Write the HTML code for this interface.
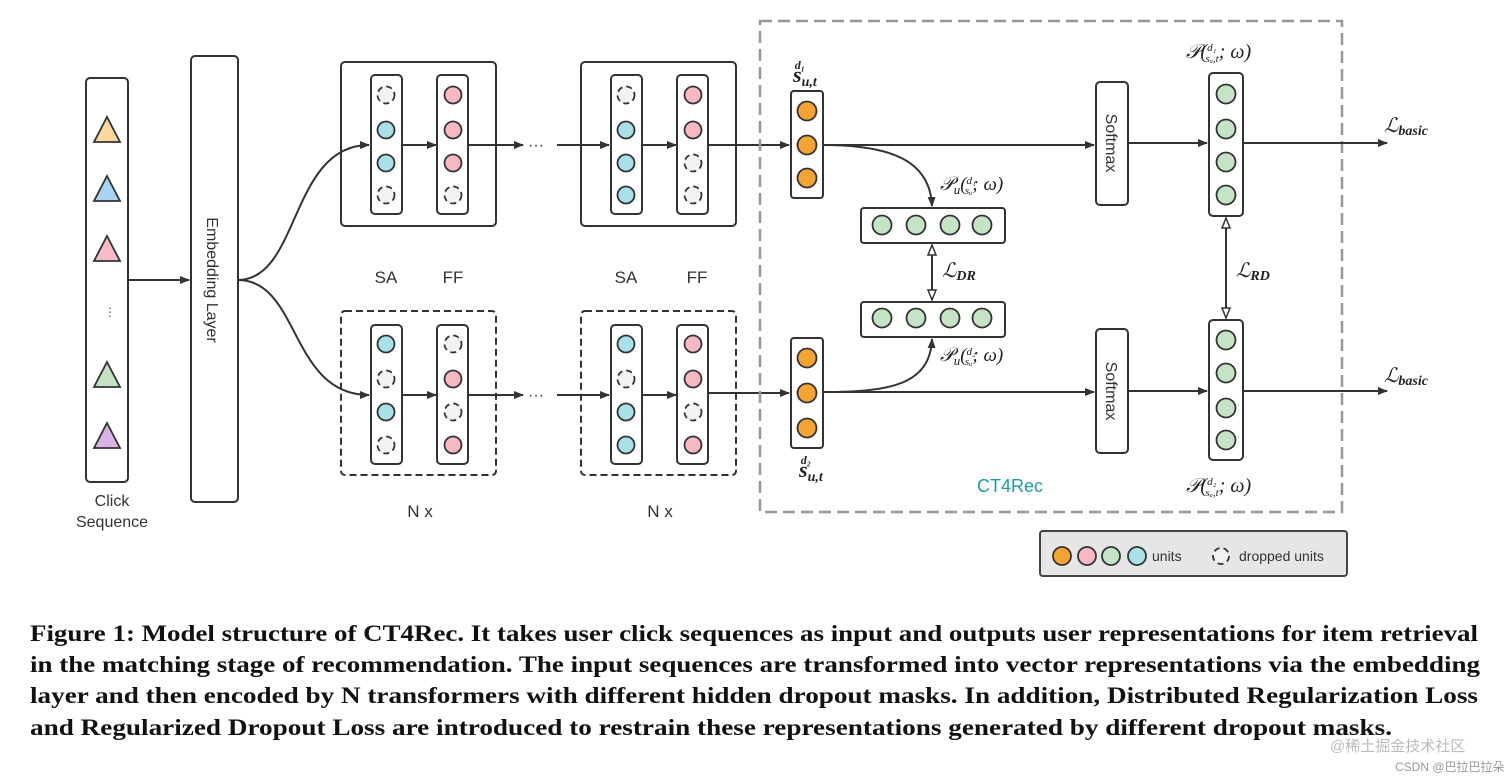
<!DOCTYPE html>
<html><head><meta charset="utf-8"><style>
html,body{margin:0;padding:0;background:#fff;}
svg{display:block;}
.s{font-family:"Liberation Sans",sans-serif;fill:#333;}
.m{font-family:"Liberation Serif",serif;font-style:italic;fill:#222;}
.cap{font-family:"Liberation Serif",serif;font-weight:bold;font-size:23px;fill:#111;}
</style></head><body>
<svg width="1512" height="777" viewBox="0 0 1512 777" xmlns="http://www.w3.org/2000/svg">
<defs>
<marker id="a" markerWidth="10" markerHeight="8" refX="9" refY="4" orient="auto" markerUnits="userSpaceOnUse"><path d="M0,0 L10,4 L0,8 Z" fill="#333"/></marker>
<marker id="h" markerWidth="12" markerHeight="10" refX="11" refY="5" orient="auto" markerUnits="userSpaceOnUse"><path d="M1,1 L11,5 L1,9 Z" fill="#fff" stroke="#333" stroke-width="1.5"/></marker>
<marker id="hs" markerWidth="12" markerHeight="10" refX="1" refY="5" orient="auto" markerUnits="userSpaceOnUse"><path d="M11,1 L1,5 L11,9 Z" fill="#fff" stroke="#333" stroke-width="1.5"/></marker>
</defs>
<g stroke="#333" stroke-width="2" fill="none">
<rect x="86" y="78" width="42" height="404" rx="4" fill="#fff"/>
<rect x="191" y="56" width="47" height="446" rx="4" fill="#fff"/>
<line x1="128" y1="280" x2="189" y2="280" marker-end="url(#a)"/>
<path d="M238,280 C300,280 290,145 369,145" marker-end="url(#a)"/>
<path d="M238,280 C300,280 290,395 369,395" marker-end="url(#a)"/>
<rect x="341" y="62" width="155" height="164" rx="4"/>
<rect x="341" y="311" width="155" height="164" rx="4" stroke-dasharray="7,4"/>
<rect x="581" y="62" width="155" height="164" rx="4"/>
<rect x="581" y="311" width="155" height="164" rx="4" stroke-dasharray="7,4"/>
<g fill="#fff">
<rect x="371" y="75" width="31" height="139" rx="4"/><rect x="437" y="75" width="31" height="139" rx="4"/>
<rect x="371" y="325" width="31" height="139" rx="4"/><rect x="437" y="325" width="31" height="139" rx="4"/>
<rect x="611" y="75" width="31" height="139" rx="4"/><rect x="677" y="75" width="31" height="139" rx="4"/>
<rect x="611" y="325" width="31" height="139" rx="4"/><rect x="677" y="325" width="31" height="139" rx="4"/>
</g>
<line x1="402" y1="145" x2="436" y2="145" marker-end="url(#a)"/>
<line x1="402" y1="395" x2="436" y2="395" marker-end="url(#a)"/>
<line x1="642" y1="145" x2="676" y2="145" marker-end="url(#a)"/>
<line x1="642" y1="395" x2="676" y2="395" marker-end="url(#a)"/>
<line x1="468" y1="145" x2="523" y2="145" marker-end="url(#a)"/>
<line x1="468" y1="395" x2="523" y2="395" marker-end="url(#a)"/>
<line x1="557" y1="145" x2="609" y2="145" marker-end="url(#a)"/>
<line x1="557" y1="395" x2="609" y2="395" marker-end="url(#a)"/>
<line x1="708" y1="145" x2="789" y2="145" marker-end="url(#a)"/>
<line x1="708" y1="393" x2="789" y2="393" marker-end="url(#a)"/>
</g>
<g font-family="Liberation Sans" font-size="16" fill="#333"><text x="528" y="150">···</text><text x="528" y="400">···</text></g>
<g stroke="#333" stroke-width="1.8">
<path d="M107,117 L120,142 L94,142 Z" fill="#fcd8a0"/>
<path d="M107,176 L120,201 L94,201 Z" fill="#a9d3f2"/>
<path d="M107,236 L120,261 L94,261 Z" fill="#f8bcc8"/>
<path d="M107,362 L120,387 L94,387 Z" fill="#c4e3c2"/>
<path d="M107,423 L120,448 L94,448 Z" fill="#d9b3e3"/>
</g>
<text x="104" y="316" font-size="12" fill="#555" font-family="Liberation Sans">⋮</text>
<text class="s" x="0" y="0" font-size="16" transform="translate(207,280) rotate(90)" text-anchor="middle">Embedding Layer</text>
<text class="s" x="112" y="506" font-size="16" text-anchor="middle">Click</text>
<text class="s" x="112" y="527" font-size="16" text-anchor="middle">Sequence</text>
<g class="s" font-size="17" text-anchor="middle">
<text x="386" y="283">SA</text><text x="453" y="283">FF</text>
<text x="626" y="283">SA</text><text x="697" y="283">FF</text>
<text x="420" y="517">N x</text><text x="660" y="517">N x</text>
</g>
<g stroke="#333" stroke-width="1.8">
<g fill="#a8e0e8">
<circle cx="386" cy="130" r="8.5"/><circle cx="386" cy="163" r="8.5"/>
<circle cx="386" cy="344" r="8.5"/><circle cx="386" cy="412" r="8.5"/>
<circle cx="626" cy="130" r="8.5"/><circle cx="626" cy="163" r="8.5"/><circle cx="626" cy="195" r="8.5"/>
<circle cx="626" cy="344" r="8.5"/><circle cx="626" cy="412" r="8.5"/><circle cx="626" cy="445" r="8.5"/>
</g>
<g fill="#f7b8c4">
<circle cx="453" cy="95" r="8.5"/><circle cx="453" cy="130" r="8.5"/><circle cx="453" cy="163" r="8.5"/>
<circle cx="453" cy="379" r="8.5"/><circle cx="453" cy="445" r="8.5"/>
<circle cx="693" cy="95" r="8.5"/><circle cx="693" cy="130" r="8.5"/>
<circle cx="693" cy="344" r="8.5"/><circle cx="693" cy="379" r="8.5"/><circle cx="693" cy="445" r="8.5"/>
</g>
<g fill="#f2f2f2" stroke-dasharray="6,4">
<circle cx="386" cy="95" r="8.5"/><circle cx="386" cy="195" r="8.5"/><circle cx="453" cy="195" r="8.5"/>
<circle cx="386" cy="379" r="8.5"/><circle cx="386" cy="445" r="8.5"/>
<circle cx="453" cy="344" r="8.5"/><circle cx="453" cy="412" r="8.5"/>
<circle cx="626" cy="95" r="8.5"/><circle cx="693" cy="163" r="8.5"/><circle cx="693" cy="195" r="8.5"/>
<circle cx="626" cy="379" r="8.5"/><circle cx="693" cy="412" r="8.5"/>
</g>
</g>
<rect x="760" y="21" width="582" height="491" fill="none" stroke="#999" stroke-width="2.5" stroke-dasharray="12,6"/>
<g stroke="#333" stroke-width="2" fill="#fff">
<rect x="791" y="91" width="32" height="107" rx="3"/>
<rect x="791" y="338" width="32" height="110" rx="3"/>
<rect x="1096" y="82" width="32" height="123" rx="4"/>
<rect x="1096" y="329" width="32" height="124" rx="4"/>
<rect x="1209" y="73" width="34" height="143" rx="4"/>
<rect x="1209" y="320" width="34" height="140" rx="4"/>
<rect x="861" y="208" width="144" height="35" rx="3"/>
<rect x="861" y="302" width="144" height="35" rx="3"/>
</g>
<g stroke="#333" stroke-width="2" fill="none">
<line x1="823" y1="145" x2="1094" y2="145" marker-end="url(#a)"/>
<line x1="823" y1="392" x2="1094" y2="392" marker-end="url(#a)"/>
<line x1="1128" y1="143" x2="1207" y2="143" marker-end="url(#a)"/>
<line x1="1128" y1="391" x2="1207" y2="391" marker-end="url(#a)"/>
<line x1="1243" y1="143" x2="1387" y2="143" marker-end="url(#a)"/>
<line x1="1243" y1="391" x2="1387" y2="391" marker-end="url(#a)"/>
<path d="M823,145 C890,145 930,160 932,206" marker-end="url(#a)"/>
<path d="M823,392 C890,392 930,385 932,339" marker-end="url(#a)"/>
<line x1="932" y1="245" x2="932" y2="300" marker-start="url(#hs)" marker-end="url(#h)"/>
<line x1="1226" y1="218" x2="1226" y2="318" marker-start="url(#hs)" marker-end="url(#h)"/>
</g>
<g stroke="#333" stroke-width="1.8">
<g fill="#f5a431">
<circle cx="807" cy="111" r="9.5"/><circle cx="807" cy="145" r="9.5"/><circle cx="807" cy="178" r="9.5"/>
<circle cx="807" cy="358" r="9.5"/><circle cx="807" cy="393" r="9.5"/><circle cx="807" cy="428" r="9.5"/>
</g>
<g fill="#c5e3c5">
<circle cx="882" cy="225" r="9.5"/><circle cx="916" cy="225" r="9.5"/><circle cx="950" cy="225" r="9.5"/><circle cx="982" cy="225" r="9.5"/>
<circle cx="882" cy="318" r="9.5"/><circle cx="916" cy="318" r="9.5"/><circle cx="950" cy="318" r="9.5"/><circle cx="982" cy="318" r="9.5"/>
<circle cx="1226" cy="94" r="9.5"/><circle cx="1226" cy="129" r="9.5"/><circle cx="1226" cy="162" r="9.5"/><circle cx="1226" cy="195" r="9.5"/>
<circle cx="1226" cy="340" r="9.5"/><circle cx="1226" cy="373" r="9.5"/><circle cx="1226" cy="408" r="9.5"/><circle cx="1226" cy="440" r="9.5"/>
</g>
</g>
<g class="s" font-size="16" text-anchor="middle">
<text transform="translate(1106,143) rotate(90)">Softmax</text>
<text transform="translate(1106,391) rotate(90)">Softmax</text>
</g>
<g class="m">
<text x="793" y="82" font-size="22" font-weight="bold">s<tspan font-size="14" dy="4">u,t</tspan><tspan font-size="12" dx="-22" dy="-17">d₁</tspan></text>
<text x="799" y="477" font-size="22" font-weight="bold">s<tspan font-size="14" dy="4">u,t</tspan><tspan font-size="12" dx="-22" dy="-17">d₂</tspan></text>
<text x="940" y="190" font-size="19">𝒫<tspan font-size="13" dy="4">u</tspan><tspan dy="-4">(</tspan><tspan font-size="11" dy="-6">d₁</tspan><tspan font-size="11" dx="-11" dy="10">sᵤ</tspan><tspan dy="-4">; ω)</tspan></text>
<text x="940" y="361" font-size="19">𝒫<tspan font-size="13" dy="4">u</tspan><tspan dy="-4">(</tspan><tspan font-size="11" dy="-6">d₂</tspan><tspan font-size="11" dx="-11" dy="10">sᵤ</tspan><tspan dy="-4">; ω)</tspan></text>
<text x="1186" y="58" font-size="20">𝒫(<tspan font-size="11" dy="-7">d₁</tspan><tspan font-size="11" dx="-11" dy="11">sᵤ,t</tspan><tspan dy="-4">; ω)</tspan></text>
<text x="1186" y="492" font-size="20">𝒫(<tspan font-size="11" dy="-7">d₂</tspan><tspan font-size="11" dx="-11" dy="11">sᵤ,t</tspan><tspan dy="-4">; ω)</tspan></text>
<text x="942" y="277" font-size="20">ℒ<tspan font-size="14" dy="3" font-weight="bold">DR</tspan></text>
<text x="1236" y="277" font-size="20">ℒ<tspan font-size="14" dy="3" font-weight="bold">RD</tspan></text>
<text x="1384" y="132" font-size="20">ℒ<tspan font-size="14" dy="3" font-weight="bold">basic</tspan></text>
<text x="1384" y="382" font-size="20">ℒ<tspan font-size="14" dy="3" font-weight="bold">basic</tspan></text>
</g>
<text x="1010" y="492" font-family="Liberation Sans" font-size="18" fill="#1a9aaa" text-anchor="middle">CT4Rec</text>
<rect x="1040" y="531" width="307" height="45" rx="3" fill="#e6e6e6" stroke="#444" stroke-width="2"/>
<g stroke="#333" stroke-width="1.8">
<circle cx="1062" cy="556" r="9" fill="#f5a431"/><circle cx="1087" cy="556" r="9" fill="#f7b8c4"/>
<circle cx="1111" cy="556" r="9" fill="#c5e3c5"/><circle cx="1137" cy="556" r="9" fill="#a8e0e8"/>
<circle cx="1221" cy="556" r="8" fill="#f2f2f2" stroke-dasharray="6,4"/>
</g>
<text x="1152" y="561" font-family="Liberation Sans" font-size="14" fill="#333">units</text>
<text x="1239" y="561" font-family="Liberation Sans" font-size="14" fill="#333">dropped units</text>
<text class="cap" x="30" y="641" textLength="1448" lengthAdjust="spacingAndGlyphs">Figure 1: Model structure of CT4Rec. It takes user click sequences as input and outputs user representations for item retrieval</text>
<text class="cap" x="30" y="672" textLength="1450" lengthAdjust="spacingAndGlyphs">in the matching stage of recommendation. The input sequences are transformed into vector representations via the embedding</text>
<text class="cap" x="30" y="703" textLength="1448" lengthAdjust="spacingAndGlyphs">layer and then encoded by N transformers with different hidden dropout masks. In addition, Distributed Regularization Loss</text>
<text class="cap" x="30" y="735" textLength="1362" lengthAdjust="spacingAndGlyphs">and Regularized Dropout Loss are introduced to restrain these representations generated by different dropout masks.</text>
<text x="1330" y="751" font-family="'Liberation Sans','Noto Sans CJK SC',sans-serif" font-size="15" fill="#bbb">@稀土掘金技术社区</text>
<text x="1395" y="771" font-family="'Liberation Sans','Noto Sans CJK SC',sans-serif" font-size="12" fill="#999">CSDN @巴拉巴拉朵</text>
</svg>
</body></html>
